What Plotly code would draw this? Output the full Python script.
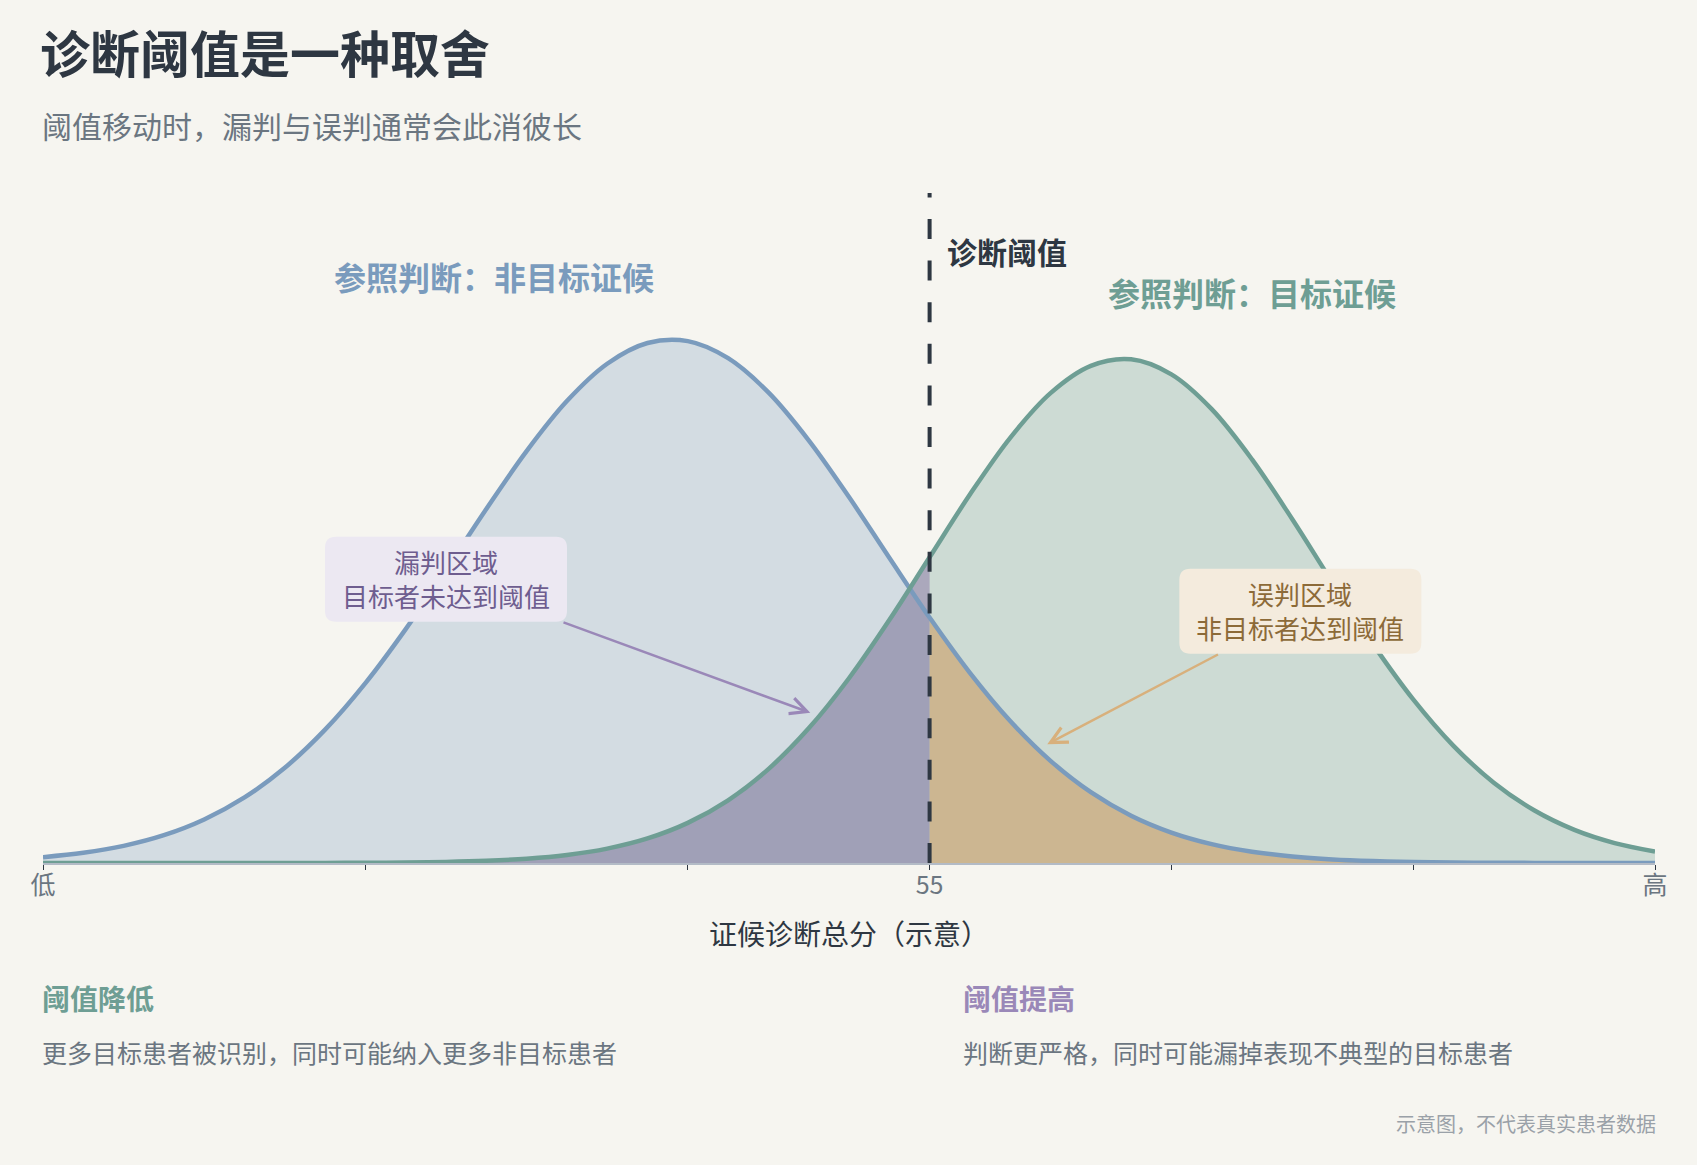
import plotly.graph_objects as go

# ---------------- data ----------------
x_score = [0, 2.5, 5, 7.5, 10, 12.5, 15, 17.5, 20, 22.5, 25, 27.5, 30, 32.5, 35, 37.5,
           40, 42.5, 45, 47.5, 50, 52.5, 55, 57.5, 60, 62.5, 65, 67.5, 70, 72.5, 75,
           77.5, 80, 82.5, 85, 87.5, 90, 92.5, 95, 97.5, 100]

# 参照判断：非目标证候 (relative density)
non_target = [0.0111, 0.0194, 0.0327, 0.0531, 0.0831, 0.1252, 0.1819, 0.2547, 0.3437,
              0.4469, 0.5600, 0.6762, 0.7869, 0.8825, 0.9538, 0.9934, 0.9970, 0.9644,
              0.8990, 0.8075, 0.6991, 0.5832, 0.4689, 0.3633, 0.2712, 0.1952, 0.1353,
              0.0904, 0.0582, 0.0361, 0.0216, 0.0125, 0.0069, 0.0037, 0.0019, 0.0010,
              0.0005, 0.0002, 0.0001, 0.0000, 0.0000]

# 参照判断：目标证候 (relative density)
target = [0.0000, 0.0000, 0.0000, 0.0000, 0.0000, 0.0000, 0.0001, 0.0002, 0.0004,
          0.0010, 0.0021, 0.0043, 0.0083, 0.0154, 0.0275, 0.0469, 0.0766, 0.1198,
          0.1794, 0.2572, 0.3530, 0.4641, 0.5841, 0.7039, 0.8123, 0.8976, 0.9497,
          0.9622, 0.9334, 0.8670, 0.7711, 0.6567, 0.5355, 0.4182, 0.3126, 0.2238,
          0.1534, 0.1007, 0.0633, 0.0381, 0.0220]

threshold = 55
tick_values = [0, 20, 40, 55, 70, 85, 100]
tick_labels = ["低", "", "", "55", "", "", "高"]

# ---------------- layout geometry / styles ----------------
W, H = 1697, 1165
M_L, M_R, M_T, M_B = 43, 42, 193, 302
PW = W - M_L - M_R
PH = H - M_T - M_B
X_MIN, X_MAX = 0, 100
Y_MAX = 1.28

FONT = "Noto Sans CJK SC"
BG = "#f6f5f0"
DARK = "#2e3742"
GRAY = "#6b7681"
BLUE = "#7a9bbd"
GREEN = "#6e9e94"
PURPLE = "#9a88b8"


def px_paper(px, py):
    return (px - M_L) / PW, (H - M_B - py) / PH


def ux(px):  # pixels -> x data units
    return px * (X_MAX - X_MIN) / PW


def uy(px):  # pixels -> y data units
    return px * Y_MAX / PH


cut = x_score.index(threshold)

fig = go.Figure()
# fills
fig.add_trace(go.Scatter(x=x_score, y=non_target, mode="lines",
                         line=dict(width=0, shape="spline", color=BLUE),
                         fill="tozeroy", fillcolor="rgba(123,155,189,0.28)",
                         hoverinfo="skip", showlegend=False))
fig.add_trace(go.Scatter(x=x_score, y=target, mode="lines",
                         line=dict(width=0, shape="spline", color=GREEN),
                         fill="tozeroy", fillcolor="rgba(110,158,148,0.30)",
                         hoverinfo="skip", showlegend=False))
# missed region: target below threshold
fig.add_trace(go.Scatter(x=x_score[:cut + 1], y=target[:cut + 1], mode="lines",
                         line=dict(width=0, shape="spline"),
                         fill="tozeroy", fillcolor="rgba(143,126,167,0.55)",
                         hoverinfo="skip", showlegend=False))
# false-positive region: non-target above threshold
fig.add_trace(go.Scatter(x=x_score[cut:], y=non_target[cut:], mode="lines",
                         line=dict(width=0, shape="spline"),
                         fill="tozeroy", fillcolor="rgba(214,174,119,0.70)",
                         hoverinfo="skip", showlegend=False))
# outlines
fig.add_trace(go.Scatter(x=x_score, y=non_target, mode="lines",
                         line=dict(width=4.5, shape="spline", color=BLUE),
                         hoverinfo="skip", showlegend=False))
fig.add_trace(go.Scatter(x=x_score, y=target, mode="lines",
                         line=dict(width=4.5, shape="spline", color=GREEN),
                         hoverinfo="skip", showlegend=False))

shapes = [dict(type="line", xref="x", yref="paper", x0=threshold, x1=threshold,
               y0=0, y1=1, layer="above",
               line=dict(color=DARK, width=4, dash="20px,21.6px"))]

annotations = []


def text(px, py, s, size, color, bold=False, anchor="left"):
    xp, yp = px_paper(px, py)
    annotations.append(dict(xref="paper", yref="paper", x=xp, y=yp, text=s,
                            showarrow=False, xanchor=anchor, yanchor="middle",
                            borderpad=0, borderwidth=0,
                            font=dict(family=FONT, size=size, color=color,
                                      weight=700 if bold else 400)))


# header
text(40, 51, "诊断阈值是一种取舍", 50, DARK, bold=True)
text(42, 125, "阈值移动时，漏判与误判通常会此消彼长", 30, GRAY)
# footer notes
text(42, 998, "阈值降低", 28, GREEN, bold=True)
text(42, 1052, "更多目标患者被识别，同时可能纳入更多非目标患者", 25, GRAY)
text(963, 998, "阈值提高", 28, PURPLE, bold=True)
text(963, 1052, "判断更严格，同时可能漏掉表现不典型的目标患者", 25, GRAY)
text(1656, 1123, "示意图，不代表真实患者数据", 20, "#9aa1a8", anchor="right")

# curve labels
annotations.append(dict(x=28, y=1.118, xref="x", yref="y", text="参照判断：非目标证候",
                        showarrow=False, xanchor="center", yanchor="middle", yshift=2,
                        font=dict(family=FONT, size=32, color=BLUE, weight=700)))
annotations.append(dict(x=75, y=1.087, xref="x", yref="y", text="参照判断：目标证候",
                        showarrow=False, xanchor="center", yanchor="middle", yshift=2,
                        font=dict(family=FONT, size=32, color=GREEN, weight=700)))
annotations.append(dict(x=threshold, y=1.165, xref="x", yref="y", text="诊断阈值",
                        showarrow=False, xanchor="left", yanchor="middle",
                        xshift=15, yshift=2,
                        font=dict(family=FONT, size=30, color=DARK, weight=700)))

# callout boxes
BOX_W, BOX_H, RAD = 242, 85, 11
callouts = [
    dict(cx=25.0, cy=0.542, hx=47.6, hy=0.287, text="漏判区域<br>目标者未达到阈值",
         bg="#ece8f2", fg="#6e5d8f", arrow=PURPLE),
    dict(cx=78.0, cy=0.481, hx=62.3, hy=0.227, text="误判区域<br>非目标者达到阈值",
         bg="#f4ebdd", fg="#8c6a38", arrow="#d8b07c"),
]
for c in callouts:
    hw, hh = ux(BOX_W / 2), uy(BOX_H / 2)
    rx, ry = ux(RAD), uy(RAD)
    x0, x1 = c["cx"] - hw, c["cx"] + hw
    y0, y1 = c["cy"] - hh, c["cy"] + hh
    path = (f"M{x0 + rx},{y0} L{x1 - rx},{y0} Q{x1},{y0} {x1},{y0 + ry} "
            f"L{x1},{y1 - ry} Q{x1},{y1} {x1 - rx},{y1} L{x0 + rx},{y1} "
            f"Q{x0},{y1} {x0},{y1 - ry} L{x0},{y0 + ry} Q{x0},{y0} {x0 + rx},{y0} Z")
    shapes.append(dict(type="path", xref="x", yref="y", path=path, layer="above",
                       fillcolor=c["bg"], line=dict(width=0)))
    annotations.append(dict(x=c["cx"], y=c["cy"], xref="x", yref="y", text=c["text"],
                            showarrow=False, xanchor="center", yanchor="middle",
                            align="center", borderpad=0, borderwidth=0, yshift=1,
                            font=dict(family=FONT, size=26, color=c["fg"])))
    # arrow tail on box edge (pixel geometry)
    vx = (c["hx"] - c["cx"]) * PW / (X_MAX - X_MIN)
    vy = (c["hy"] - c["cy"]) * PH / Y_MAX
    t = min((BOX_W / 2) / abs(vx), (BOX_H / 2) / abs(vy))
    tx = c["cx"] + ux(vx * t)
    ty = c["cy"] + uy(vy * t)
    annotations.append(dict(x=c["hx"], y=c["hy"], xref="x", yref="y",
                            ax=tx, ay=ty, axref="x", ayref="y", text="",
                            showarrow=True, arrowhead=5, arrowsize=1.3,
                            arrowwidth=2.5, arrowcolor=c["arrow"], standoff=0))

fig.update_layout(
    width=W, height=H,
    margin=dict(l=M_L, r=M_R, t=M_T, b=M_B),
    paper_bgcolor=BG, plot_bgcolor=BG,
    font=dict(family=FONT, color=DARK),
    showlegend=False,
    shapes=shapes,
    annotations=annotations,
    xaxis=dict(range=[X_MIN, X_MAX], showgrid=False, zeroline=False,
               showline=True, linecolor="#b3bbc6", linewidth=2,
               ticks="outside", ticklen=5, tickwidth=1, tickcolor=DARK,
               tickvals=tick_values, ticktext=tick_labels, ticklabelstandoff=-6,
               tickfont=dict(family=FONT, size=25, color=GRAY),
               title=dict(text="证候诊断总分（示意）", standoff=25,
                          font=dict(family=FONT, size=28, color=DARK))),
    yaxis=dict(range=[0, Y_MAX], visible=False, showgrid=False, zeroline=False),
)

fig.write_html("out.html",
               config={"displayModeBar": False},
               post_script="document.body.style.margin='0';"
                           "document.body.style.background='" + BG + "';")
